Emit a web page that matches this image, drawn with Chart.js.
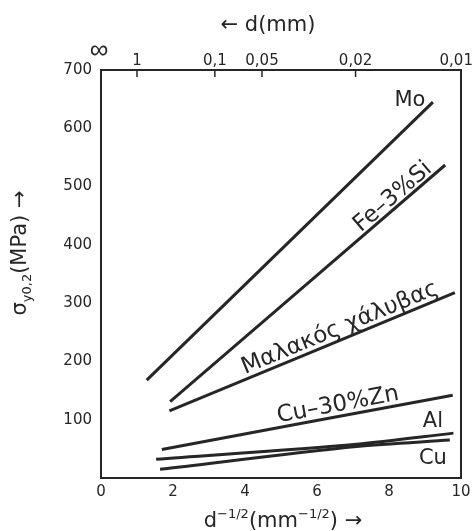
<!DOCTYPE html>
<html>
<head>
<meta charset="utf-8">
<script src="https://cdn.jsdelivr.net/npm/chart.js@4"></script>
<style>
  body { margin: 0; background: #fff; }
  #wrap { width: 474px; height: 531px; }
</style>
</head>
<body>
<div id="wrap"><canvas id="hallPetch"></canvas></div>
<script>
// values (x = d^-1/2 in mm^-1/2, y = MPa)
const materials = ['Mo', 'Fe–3%Si', 'Μαλακός χάλυβας', 'Cu–30%Zn', 'Al', 'Cu'];
const xValues = [
  [1.27, 9.22],
  [1.92, 9.56],
  [1.90, 9.83],
  [1.69, 9.77],
  [1.53, 7.10, 9.79],
  [1.64, 7.10, 9.69]
];
const yValues = [
  [168, 645],
  [131, 537],
  [115, 318],
  [49, 142],
  [32, 58, 77],
  [15, 54, 65]
];
const xTicks = [0, 2, 4, 6, 8, 10];
const yTicks = [100, 200, 300, 400, 500, 600, 700];
// top axis: grain size d in mm (the ∞ one is drawn bigger by the plugin)
const dTicks = [Infinity, 1, 0.1, 0.05, 0.02, 0.01];
const dTickLabels = ['∞', '1', '0,1', '0,05', '0,02', '0,01  '];

// label placement (data coords), font size and whether it follows the line slope
const labelAt = [
  { x: 8.58, y: 648, size: 21, follow: false },
  { x: 8.11, y: 482, size: 23, follow: true },
  { x: 6.64, y: 257, size: 23, follow: true },
  { x: 6.58, y: 125, size: 23, follow: true },
  { x: 9.22, y: 96, size: 21, follow: false },
  { x: 9.22, y: 34, size: 21, follow: false }
];

const ink = '#262626';
const fam = "'DejaVu Sans', sans-serif";

function richText(ctx, parts, cx, cy, angle) {
  ctx.save();
  ctx.translate(cx, cy);
  ctx.rotate(angle);
  ctx.textBaseline = 'alphabetic';
  ctx.textAlign = 'left';
  let w = 0;
  parts.forEach(p => { ctx.font = p.size + 'px ' + fam; w += ctx.measureText(p.t).width; });
  let x = -w / 2;
  parts.forEach(p => {
    ctx.font = p.size + 'px ' + fam;
    ctx.fillText(p.t, x, p.dy || 0);
    x += ctx.measureText(p.t).width;
  });
  ctx.restore();
}

const extras = {
  id: 'extras',
  afterDraw(chart) {
    const ctx = chart.ctx;
    const xs = chart.scales.x, ys = chart.scales.y, x2 = chart.scales.x2;
    const top = chart.chartArea.top;
    ctx.save();
    ctx.fillStyle = ink;
    ctx.strokeStyle = ink;

    // inward tick marks of the d axis
    ctx.lineWidth = 1.5;
    dTicks.forEach(d => {
      const v = 1 / Math.sqrt(d);
      if (v <= 0 || v >= 10) return;
      const px = x2.getPixelForValue(v);
      ctx.beginPath();
      ctx.moveTo(px, top);
      ctx.lineTo(px, top + 7);
      ctx.stroke();
    });

    // the infinity label
    ctx.font = "26px 'Liberation Sans', sans-serif";
    ctx.textAlign = 'center';
    ctx.textBaseline = 'middle';
    ctx.fillText(dTickLabels[0], x2.getPixelForValue(0) - 2, top - 19);

    // line labels
    materials.forEach((name, i) => {
      const a = labelAt[i];
      let ang = 0;
      if (a.follow) {
        const n = xValues[i].length - 1;
        const dx = xs.getPixelForValue(xValues[i][n]) - xs.getPixelForValue(xValues[i][0]);
        const dy = ys.getPixelForValue(yValues[i][n]) - ys.getPixelForValue(yValues[i][0]);
        ang = Math.atan2(dy, dx);
      }
      ctx.save();
      ctx.translate(xs.getPixelForValue(a.x), ys.getPixelForValue(a.y));
      ctx.rotate(ang);
      ctx.font = a.size + 'px ' + fam;
      ctx.textAlign = 'center';
      ctx.textBaseline = 'middle';
      ctx.fillText(name, 0, 0);
      ctx.restore();
    });

    // axis titles
    richText(ctx, [{ t: '← d(mm)', size: 21 }], 268, 31, 0);
    richText(ctx, [
      { t: 'd', size: 21 },
      { t: '−1/2', size: 13, dy: -9 },
      { t: '(mm', size: 21 },
      { t: '−1/2', size: 13, dy: -9 },
      { t: ') →', size: 21 }
    ], 283, 527, 0);
    richText(ctx, [
      { t: 'σ', size: 21 },
      { t: 'y0,2', size: 13, dy: 5 },
      { t: '(MPa) →', size: 21 }
    ], 26, 253, -Math.PI / 2);
    ctx.restore();
  }
};

const colours = materials.map(() => ink);

new Chart(document.getElementById('hallPetch'), {
  type: 'scatter',
  data: {
    datasets: materials.map((m, i) => ({
      label: m,
      data: xValues[i].map((x, j) => ({ x: x, y: yValues[i][j] })),
      showLine: true,
      borderColor: colours[i],
      borderWidth: 3,
      pointRadius: 0,
      tension: 0.3,
      fill: false
    }))
  },
  options: {
    responsive: true,
    maintainAspectRatio: false,
    animation: false,
    layout: { padding: { left: 0, right: 13, top: 0, bottom: 0 } },
    plugins: {
      legend: { display: false },
      tooltip: { enabled: false }
    },
    scales: {
      x: {
        type: 'linear',
        position: 'bottom',
        min: 0,
        max: 10,
        afterBuildTicks: s => { s.ticks = xTicks.map(v => ({ value: v })); },
        afterFit: s => { s.height = 53; s.paddingLeft = 0; s.paddingRight = 0; },
        grid: { display: false, drawTicks: false },
        border: { display: true, color: ink, width: 2 },
        ticks: { color: ink, font: { family: fam, size: 15 }, padding: 5, maxRotation: 0, autoSkip: false }
      },
      x2: {
        type: 'linear',
        position: 'top',
        min: 0,
        max: 10,
        afterBuildTicks: s => { s.ticks = dTicks.map(d => ({ value: 1 / Math.sqrt(d) })); },
        afterFit: s => { s.height = 70; s.paddingLeft = 0; s.paddingRight = 0; },
        grid: { display: false, drawTicks: false },
        border: { display: true, color: ink, width: 2 },
        ticks: {
          color: ink,
          font: { family: fam, size: 15 },
          padding: 0,
          maxRotation: 0,
          autoSkip: false,
          callback: (v, i) => (i === 0 ? '' : dTickLabels[i])
        }
      },
      y: {
        type: 'linear',
        position: 'left',
        min: 0,
        max: 700,
        afterBuildTicks: s => { s.ticks = yTicks.map(v => ({ value: v })); },
        afterFit: s => { s.width = 101; s.paddingTop = 0; s.paddingBottom = 0; },
        grid: { display: false, drawTicks: false },
        border: { display: true, color: ink, width: 2 },
        ticks: { color: ink, font: { family: fam, size: 15 }, padding: 9 }
      },
      y2: {
        type: 'linear',
        position: 'right',
        min: 0,
        max: 700,
        afterFit: s => { s.width = 0; s.paddingTop = 0; s.paddingBottom = 0; },
        grid: { display: false, drawTicks: false },
        border: { display: true, color: ink, width: 2 },
        ticks: { display: false }
      }
    }
  },
  plugins: [extras]
});
</script>
</body>
</html>
